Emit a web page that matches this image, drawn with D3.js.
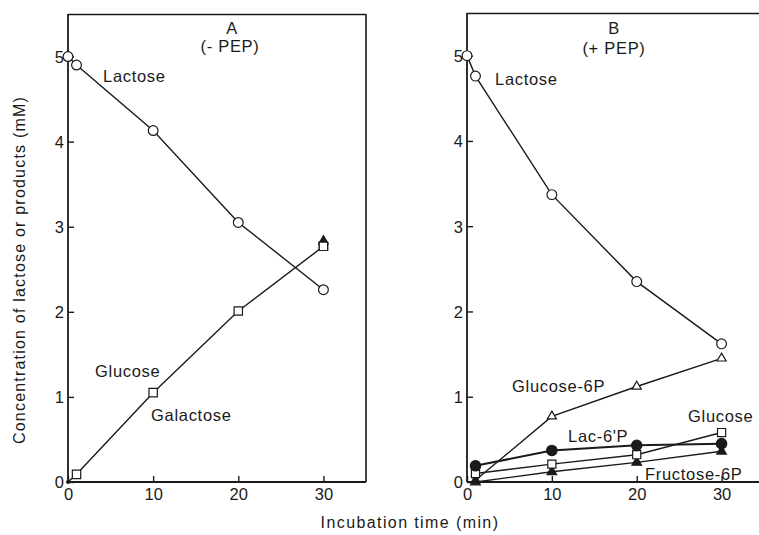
<!DOCTYPE html>
<html lang="en">
<head>
<meta charset="utf-8">
<title>Lactose hydrolysis</title>
<script src="https://cdn.jsdelivr.net/npm/d3@7"></script>
<style>
  body { margin: 0; background: #fff; }
  text { font-family: "Liberation Sans", Arial, Helvetica, sans-serif; fill: #1a1a1a; }
</style>
</head>
<body>
<script>
// values (time in min, concentration in mM)
const lactoseA   = [[0, 5.0], [1, 4.9], [10, 4.13], [20, 3.05], [30, 2.26]];
const galactoseA = [[0, 0], [1, 0.09], [10, 1.05], [20, 2.01], [30, 2.77]];
const glucoseA   = [[30, 2.83]];

const lactoseB   = [[0, 5.0], [1, 4.76], [10, 3.37], [20, 2.35], [30, 1.62]];
const glc6pB     = [[1, 0.02], [10, 0.77], [20, 1.12], [30, 1.45]];
const lac6pB     = [[1, 0.19], [10, 0.37], [20, 0.43], [30, 0.45]];
const glucoseB   = [[1, 0.1], [10, 0.21], [20, 0.32], [30, 0.58]];
const fru6pB     = [[1, 0.0], [10, 0.12], [20, 0.23], [30, 0.36]];

const xTicks = [0, 10, 20, 30];
const yTicks = [0, 1, 2, 3, 4, 5];

const W = 759, H = 535;
const svg = d3.select("body").append("svg").attr("width", W).attr("height", H);

const ink = "#1a1a1a";

function panel(x0, x1, top, bottom, closed) {
  const x = d3.scaleLinear().domain([0, 35]).range([x0, x1]);
  const y = d3.scaleLinear().domain([0, 5.5]).range([bottom, top]);
  const g = svg.append("g");

  // frame
  g.append("line").attr("x1", x0).attr("x2", x1).attr("y1", top + 0.5).attr("y2", top + 0.5)
    .attr("stroke", ink).attr("stroke-width", 1.6);
  if (closed) g.append("line").attr("x1", x1).attr("x2", x1).attr("y1", top).attr("y2", y(0))
    .attr("stroke", ink).attr("stroke-width", 1.6);

  const ax = g.append("g").attr("transform", `translate(0,${y(0)})`)
    .call(d3.axisBottom(x).tickValues(xTicks).tickSize(-6).tickPadding(6).tickFormat(d3.format("d")));
  const ay = g.append("g").attr("transform", `translate(${x0},0)`)
    .call(d3.axisLeft(y).tickValues(yTicks).tickSize(-6).tickPadding(4).tickFormat(d3.format("d")));
  [ax, ay].forEach(a => {
    a.select(".domain").attr("stroke", ink).attr("stroke-width", 1.8);
    a.selectAll(".tick line").attr("stroke", ink).attr("stroke-width", 1.4);
    a.selectAll(".tick text").style("font-size", "16.5px").attr("fill", ink);
  });
  ax.select(".domain").attr("d", `M${x0},0H${x1}`);
  ay.select(".domain").attr("d", `M0,${y(0)}V${top}`);
  ay.selectAll(".tick text").attr("dy", "0.36em");
  return { g, x, y };
}

function series(p, data, opt) {
  const line = d3.line().x(d => p.x(d[0])).y(d => p.y(d[1]));
  if (opt.line !== false)
    p.g.append("path").datum(data).attr("d", line).attr("fill", "none")
      .attr("stroke", ink).attr("stroke-width", opt.sw || 1.4);
  const pts = data.filter(d => opt.skipZero ? d[0] > 0 : true);
  p.g.selectAll(null).data(pts).enter().append("path")
    .attr("transform", d => `translate(${p.x(d[0])},${p.y(d[1])})`)
    .attr("d", d3.symbol().type(opt.shape).size(opt.size || 60))
    .attr("fill", opt.filled ? ink : "#fff")
    .attr("stroke", ink).attr("stroke-width", 1.2);
}

function label(p, txt, px, py, anchor) {
  p.g.append("text").attr("x", px).attr("y", py).attr("text-anchor", anchor || "start")
    .style("font-size", "16.5px").style("letter-spacing", "0.7px").text(txt);
}

// Panel A
const A = panel(68, 366, 14, 482, true);
series(A, galactoseA, { shape: d3.symbolSquare, size: 70, skipZero: true });
series(A, glucoseA, { shape: d3.symbolTriangle, size: 40, filled: true, line: false });
series(A, [galactoseA[4]], { shape: d3.symbolSquare, size: 70, line: false });
series(A, lactoseA, { shape: d3.symbolCircle, size: 75 });
A.g.append("circle").attr("cx", A.x(0)).attr("cy", A.y(0)).attr("r", 2).attr("fill", ink);
label(A, "A", 232, 34, "middle");
label(A, "(-  PEP)", 230, 52, "middle");
label(A, "Lactose", 103, 82);
label(A, "Glucose", 95, 377);
label(A, "Galactose", 151, 421);

// Panel B
const B = panel(467, 764, 13, 482, false);
series(B, lactoseB, { shape: d3.symbolCircle, size: 75 });
series(B, glc6pB, { shape: d3.symbolTriangle, size: 36 });
series(B, fru6pB, { shape: d3.symbolTriangle, size: 40, filled: true });
series(B, glucoseB, { shape: d3.symbolSquare, size: 66 });
series(B, lac6pB, { shape: d3.symbolCircle, size: 85, filled: true, sw: 2 });
label(B, "B", 614, 34, "middle");
label(B, "(+  PEP)", 614, 54, "middle");
label(B, "Lactose", 495, 85);
label(B, "Glucose-6P", 512, 392);
label(B, "Glucose", 688, 422);
label(B, "Lac-6'P", 568, 442);
label(B, "Fructose-6P", 645, 480);

// axis titles
svg.append("text").attr("transform", "translate(25,270) rotate(-90)")
  .attr("text-anchor", "middle").style("font-size", "16px").style("letter-spacing", "1.2px")
  .text("Concentration of lactose or products (mM)");
svg.append("text").attr("x", 410).attr("y", 528).attr("text-anchor", "middle")
  .style("font-size", "16px").style("letter-spacing", "1.4px").text("Incubation time (min)");
</script>
</body>
</html>
